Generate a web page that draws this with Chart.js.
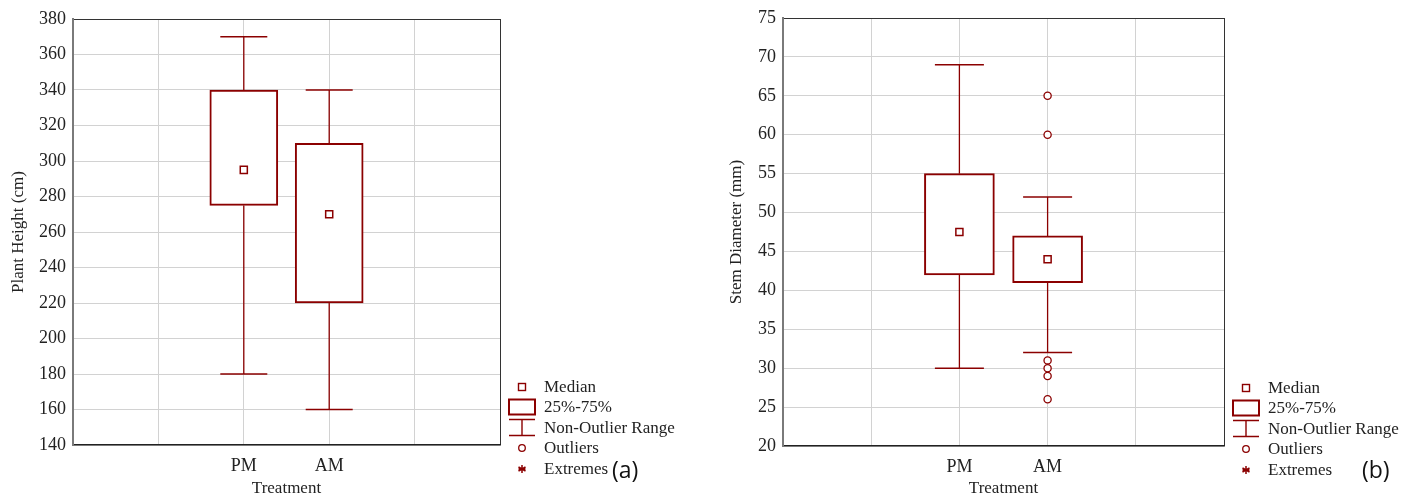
<!DOCTYPE html>
<html>
<head>
<meta charset="utf-8">
<script src="https://cdn.jsdelivr.net/npm/chart.js@4.4.1/dist/chart.umd.min.js"></script>
<style>
  html, body { margin: 0; padding: 0; background: #fff; }
  #page { position: relative; width: 1403px; height: 497px; overflow: hidden; }
  .pane { position: absolute; top: 0; }
  .legend { position: absolute; font-family: "Liberation Serif", "Times New Roman", serif; font-size: 17px; color: #222; }
  .legend .row { height: 20.5px; line-height: 20.5px; white-space: nowrap; display: flex; align-items: center; }
  .legend svg { width: 28px; height: 20px; margin-right: 8px; flex: none; }
  .tag { position: absolute; font-family: "Open Sans", "Liberation Sans", sans-serif; font-size: 23px; line-height: 30px; color: #111; }
</style>
</head>
<body>
<div id="page">
  <div class="pane" style="left:0px"><canvas id="chartA" width="510" height="497"></canvas></div>
  <div class="pane" style="left:700px"><canvas id="chartB" width="534" height="497"></canvas></div>
  <div class="legend" id="legendA" style="left:508px; top:376.5px"></div>
  <div class="legend" id="legendB" style="left:1232px; top:377.5px"></div>
  <div class="tag" style="left:612px; top:454px">(a)</div>
  <div class="tag" style="left:1362px; top:454px">(b)</div>
</div>
<script>
// ---- data ----
const categories = ['PM', 'AM'];
const catPos     = [2, 3];              // slot on the 0..5 treatment axis
const xSlots     = [0, 1, 2, 3, 4, 5];

// (a) plant height, cm
const heightMin  = [180, 160];
const heightQ1   = [275, 220];
const heightMed  = [295, 270];
const heightQ3   = [340, 310];
const heightMax  = [370, 340];
const heightOut  = [[], []];
const heightTicks = [140, 160, 180, 200, 220, 240, 260, 280, 300, 320, 340, 360, 380];

// (b) stem diameter, mm
const stemMin  = [30, 32];
const stemQ1   = [42, 41];
const stemMed  = [47.5, 44];
const stemQ3   = [55, 47];
const stemMax  = [69, 52];
const stemOut  = [[], [65, 60, 31, 30, 29, 26]];
const stemTicks = [20, 25, 30, 35, 40, 45, 50, 55, 60, 65, 70, 75];

const legendLabels = ['Median', '25%-75%', 'Non-Outlier Range', 'Outliers', 'Extremes'];
//============================================================================

const RED = '#8b0000';
const INK = '#222';
const SERIF = '"Liberation Serif", "Times New Roman", serif';

Chart.defaults.font.family = SERIF;
Chart.defaults.color = INK;

function boxChart(id, d) {
    const pts = arr => catPos.map((x, i) => ({ x: x, y: arr[i] }));
    const whisk = [];
    catPos.forEach((x, i) => {
        whisk.push({ x, y: d.min[i] }, { x, y: d.q1[i] }, { x, y: null },
                   { x, y: d.q3[i] }, { x, y: d.max[i] }, { x, y: null });
    });
    const outl = [];
    d.out.forEach((list, i) => list.forEach(v => outl.push({ x: catPos[i], y: v })));
    const yMin = d.ticks[0];
    const yMax = d.ticks[d.ticks.length - 1];

    return new Chart(document.getElementById(id), {
        type: 'scatter',
        data: {
            datasets: [
                { label: 'Median', data: pts(d.med), pointStyle: 'rect', radius: 5,
                  borderWidth: 1.5, borderColor: RED, backgroundColor: '#fff', order: 0 },
                { label: 'Outliers', data: outl, pointStyle: 'circle', radius: 3.6,
                  borderWidth: 1.3, borderColor: RED, backgroundColor: '#fff', order: 1 },
                { label: 'Caps', data: pts(d.min).concat(pts(d.max)), pointStyle: 'line',
                  radius: d.cap / 2, borderWidth: 1.5, borderColor: RED, order: 2 },
                { type: 'line', label: 'Whiskers', data: whisk, borderColor: RED, borderWidth: 1.3,
                  pointRadius: 0, spanGaps: false, fill: false, order: 3 },
                { type: 'bar', label: '25%-75%', data: catPos.map((x, i) => ({ x: x, y: [d.q1[i], d.q3[i]] })),
                  barThickness: d.bar, borderWidth: 2, borderColor: RED, backgroundColor: '#fff',
                  borderSkipped: false, order: 4 }
            ]
        },
        options: {
            responsive: false,
            animation: false,
            events: [],
            layout: { autoPadding: false, padding: { top: d.top, right: d.right, left: 0, bottom: 0 } },
            plugins: { legend: { display: false }, tooltip: { enabled: false } },
            scales: {
                x: {
                    type: 'linear', min: 0, max: 5, offset: false,
                    afterBuildTicks: s => { s.ticks = xSlots.map(v => ({ value: v })); },
                    afterFit: s => { s.height = d.xh; },
                    ticks: {
                        autoSkip: false, maxRotation: 0, padding: 10,
                        font: { size: 18 }, color: INK,
                        callback: v => { const k = catPos.indexOf(v); return k < 0 ? '' : categories[k]; }
                    },
                    grid: { offset: false, drawTicks: false, lineWidth: 1,
                            color: c => (c.tick && c.tick.value === 5) ? '#333' : '#d2d2d2' },
                    border: { color: '#222', width: 1.5 },
                    title: { display: true, text: 'Treatment', color: INK,
                             font: { size: 17, lineHeight: 1 }, padding: { top: 0, bottom: 0 } }
                },
                y: {
                    type: 'linear', min: yMin, max: yMax,
                    afterBuildTicks: s => { s.ticks = d.ticks.map(v => ({ value: v })); },
                    afterFit: s => { s.width = d.yw; },
                    ticks: { padding: 7, font: { size: 18 }, color: INK },
                    grid: { drawTicks: false, lineWidth: 1,
                            color: c => (c.tick && c.tick.value === yMax) ? '#333' : '#d2d2d2' },
                    border: { color: '#7a7a7a', width: 2 },
                    title: { display: true, text: d.title, color: INK,
                             font: { size: 17, lineHeight: 1 }, padding: { top: d.tpad, bottom: 0 } }
                }
            }
        }
    });
}

function glyph(k) {
    const s = 'stroke="' + RED + '" fill="none"';
    switch (k) {
        case 0: return '<rect x="10.5" y="6.5" width="7" height="7" stroke-width="1.4" ' + s + '/>';
        case 1: return '<rect x="1" y="2.5" width="26" height="15" stroke-width="2" ' + s + '/>';
        case 2: return '<path d="M1 1.5H27M14 1.5V17.5M1 17.5H27" stroke-width="1.4" ' + s + '/>';
        case 3: return '<circle cx="14" cy="10" r="3.3" stroke-width="1.3" ' + s + '/>';
        default: return '<path d="M14 6V14M10.5 8L17.5 12M17.5 8L10.5 12M10.5 10H17.5" stroke-width="1.5" ' + s + '/>';
    }
}

function buildLegend(id) {
    document.getElementById(id).innerHTML = legendLabels.map((t, k) =>
        '<div class="row"><svg viewBox="0 0 28 20">' + glyph(k) + '</svg><span>' + t + '</span></div>'
    ).join('');
}

boxChart('chartA', { min: heightMin, q1: heightQ1, med: heightMed, q3: heightQ3, max: heightMax,
    out: heightOut, ticks: heightTicks, title: 'Plant Height (cm)',
    top: 19, right: 5, yw: 73, xh: 52, tpad: 10, bar: 68, cap: 47 });
boxChart('chartB', { min: stemMin, q1: stemQ1, med: stemMed, q3: stemQ3, max: stemMax,
    out: stemOut, ticks: stemTicks, title: 'Stem Diameter (mm)',
    top: 18, right: 6, yw: 83, xh: 51, tpad: 28.5, bar: 70, cap: 49 });

buildLegend('legendA');
buildLegend('legendB');
</script>
</body>
</html>
